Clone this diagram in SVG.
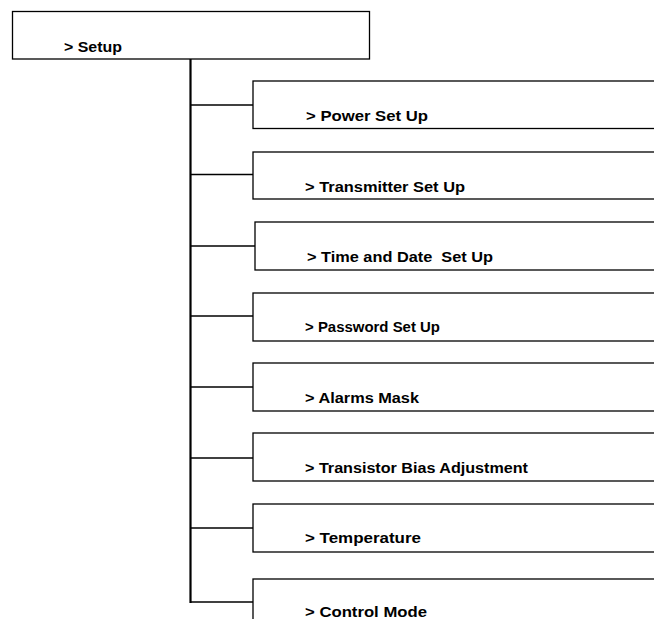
<svg xmlns="http://www.w3.org/2000/svg" width="654" height="619" viewBox="0 0 654 619">
<style>
.box{fill:#fff;stroke:#000;stroke-width:1.3}
.t{font-family:"Liberation Sans",Arial,sans-serif;font-weight:bold;font-size:14px;fill:#000}
.c{stroke:#000;fill:none}
</style>
<rect width="654" height="619" fill="#fff"/>
<g id="connectors">
<line class="c" x1="190.5" y1="59" x2="190.5" y2="603" stroke-width="2.2"/>
<line class="c" x1="190" y1="105" x2="253" y2="105" stroke-width="1.6"/>
<line class="c" x1="190" y1="174.5" x2="253" y2="174.5" stroke-width="1.6"/>
<line class="c" x1="190" y1="246" x2="255" y2="246" stroke-width="1.6"/>
<line class="c" x1="190" y1="316" x2="253" y2="316" stroke-width="1.6"/>
<line class="c" x1="190" y1="387" x2="253" y2="387" stroke-width="1.6"/>
<line class="c" x1="190" y1="458" x2="253" y2="458" stroke-width="1.6"/>
<line class="c" x1="190" y1="528" x2="253" y2="528" stroke-width="1.6"/>
<line class="c" x1="190" y1="602" x2="253" y2="602" stroke-width="1.6"/>
</g>
<g id="setup"><rect class="box" x="12.5" y="11.5" width="357" height="47.5"/><text class="t" x="64" y="52" textLength="58" lengthAdjust="spacingAndGlyphs">&gt; Setup</text></g>
<g id="power"><rect class="box" x="253" y="81" width="410" height="47.5"/><text class="t" x="306" y="121" textLength="122" lengthAdjust="spacingAndGlyphs">&gt; Power Set Up</text></g>
<g id="transmitter"><rect class="box" x="253" y="152" width="410" height="47"/><text class="t" x="305" y="192" textLength="160" lengthAdjust="spacingAndGlyphs">&gt; Transmitter Set Up</text></g>
<g id="timedate"><rect class="box" x="255" y="222" width="410" height="48"/><text class="t" x="307" y="262" textLength="186" lengthAdjust="spacingAndGlyphs" xml:space="preserve">&gt; Time and Date  Set Up</text></g>
<g id="password"><rect class="box" x="253" y="293" width="410" height="48"/><text class="t" x="305" y="332" textLength="135" lengthAdjust="spacingAndGlyphs">&gt; Password Set Up</text></g>
<g id="alarms"><rect class="box" x="253" y="363" width="410" height="48"/><text class="t" x="305" y="403" textLength="114" lengthAdjust="spacingAndGlyphs">&gt; Alarms Mask</text></g>
<g id="bias"><rect class="box" x="253" y="433" width="410" height="48"/><text class="t" x="305" y="473" textLength="223" lengthAdjust="spacingAndGlyphs">&gt; Transistor Bias Adjustment</text></g>
<g id="temperature"><rect class="box" x="253" y="504" width="410" height="48"/><text class="t" x="305" y="543" textLength="116" lengthAdjust="spacingAndGlyphs">&gt; Temperature</text></g>
<g id="control"><rect class="box" x="253" y="579" width="410" height="60"/><text class="t" x="305" y="617" textLength="122" lengthAdjust="spacingAndGlyphs">&gt; Control Mode</text></g>
</svg>
